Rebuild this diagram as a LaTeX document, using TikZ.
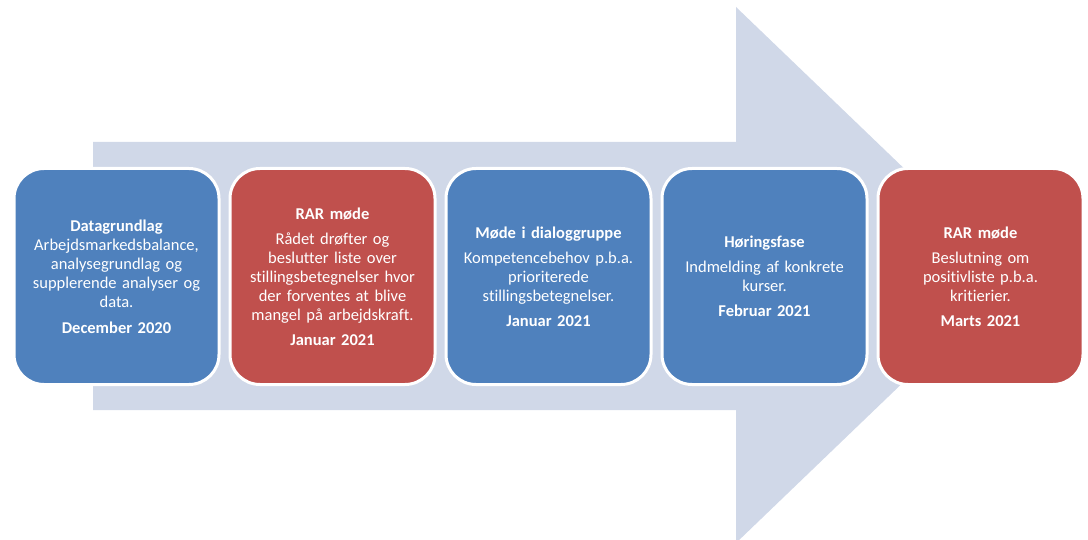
\documentclass[tikz,border=0pt]{standalone}
\usepackage{fontspec}
\setmainfont{Carlito}[Ligatures=NoCommon]
\usetikzlibrary{positioning}
\definecolor{phaseblue}{HTML}{4F81BD}
\definecolor{phasered}{HTML}{C0504D}
\definecolor{arrowbg}{HTML}{D0D8E8}

\begin{document}
\begin{tikzpicture}[x=1pt, y=-1pt, node distance=8pt,
	phase/.style={draw=white, line width=3pt, rounded corners=30pt, text=white, align=center, text width=200pt, minimum width=205pt, minimum height=216pt, inner sep=0pt, font=\fontsize{16.5}{19}\selectfont},
	bluephase/.style={phase, fill=phaseblue},
	redphase/.style={phase, fill=phasered}]
	\useasboundingbox (0,0) rectangle (1088,540);
	\clip (0,0) rectangle (1088,540);

% big arrow behind the boxes
\fill[arrowbg] (93,142) -- (736,142) -- (736,7) -- (1015,275) -- (736,543) -- (736,410) -- (93,410) -- cycle;

\node[bluephase] (data) at (116.5,276.5) {\textbf{Datagrundlag}\\Arbejdsmarkedsbalance,\\analysegrundlag og\\supplerende analyser og\\data.\\[7pt]\textbf{December 2020}};
\node[redphase, right=of data] (rarA) {\textbf{RAR møde}\\[6pt]Rådet drøfter og\\beslutter liste over\\stillingsbetegnelser hvor\\der forventes at blive\\mangel på arbejdskraft.\\[6pt]\textbf{Januar 2021}};
\node[bluephase, right=of rarA] (dialog) {\textbf{Møde i dialoggruppe}\\[6pt]Kompetencebehov p.b.a.\\prioriterede\\stillingsbetegnelser.\\[6pt]\textbf{Januar 2021}};
\node[bluephase, right=of dialog] (hoering) {\textbf{Høringsfase}\\[6pt]Indmelding af konkrete\\kurser.\\[6pt]\textbf{Februar 2021}};
\node[redphase, right=of hoering] (rarB) {\textbf{RAR møde}\\[6pt]Beslutning om\\positivliste p.b.a.\\kritierier.\\[6pt]\textbf{Marts 2021}};

\end{tikzpicture}
\end{document}
